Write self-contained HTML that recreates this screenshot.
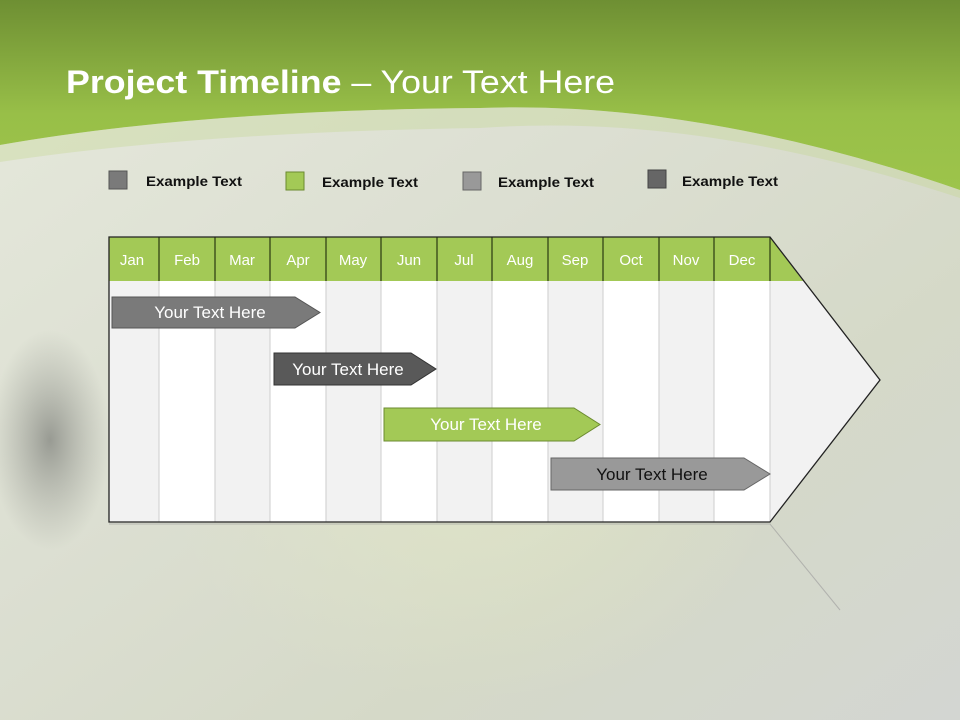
<!DOCTYPE html>
<html><head><meta charset="utf-8"><style>
html,body{margin:0;padding:0;width:960px;height:720px;overflow:hidden}
svg{display:block}
text{font-family:"Liberation Sans",sans-serif}
</style></head><body>
<svg width="960" height="720" viewBox="0 0 960 720" xmlns="http://www.w3.org/2000/svg">
<defs>
<linearGradient id="g" x1="0" y1="0" x2="0" y2="1">
<stop offset="0" stop-color="#6e8f33"/><stop offset="0.6" stop-color="#98bf48"/><stop offset="1" stop-color="#9dc44b"/>
</linearGradient>
<linearGradient id="bg" x1="0" y1="0" x2="1" y2="1">
<stop offset="0" stop-color="#e6e9dc"/><stop offset="0.4" stop-color="#dcdfd2"/><stop offset="0.7" stop-color="#d5d9c8"/><stop offset="1" stop-color="#d3d6d2"/>
</linearGradient>
<radialGradient id="dk" cx="0.5" cy="0.5" r="0.5">
<stop offset="0" stop-color="#6a6c68" stop-opacity="0.6"/><stop offset="1" stop-color="#8a8c86" stop-opacity="0"/>
</radialGradient>
<radialGradient id="lt" cx="0.5" cy="0.5" r="0.5">
<stop offset="0" stop-color="#e2e8c4" stop-opacity="0.6"/><stop offset="1" stop-color="#e2e8c4" stop-opacity="0"/>
</radialGradient>
</defs>
<rect width="960" height="720" fill="url(#bg)"/>
<ellipse cx="50" cy="440" rx="60" ry="110" fill="url(#dk)"/>
<ellipse cx="470" cy="480" rx="300" ry="220" fill="url(#lt)"/>
<path d="M0 0 H960 V190 Q700 100 480 108 Q200 110 0 145 Z" fill="url(#g)"/>
<path d="M0 145 Q200 110 480 108 Q700 100 960 190 V198 Q700 112 480 128 Q200 132 0 162 Z" fill="#c4d68e" opacity="0.35"/>
<text x="66" y="93" font-size="32" fill="#fff" textLength="549" lengthAdjust="spacingAndGlyphs"><tspan font-weight="bold">Project Timeline</tspan> – Your Text Here</text>
<!-- legend -->
<g font-size="14" font-weight="bold" fill="#111">
<rect x="109" y="171" width="18" height="18" fill="#7a7a7a" stroke="#555"/><text x="146" y="186" textLength="96" lengthAdjust="spacingAndGlyphs">Example Text</text>
<rect x="286" y="172" width="18" height="18" fill="#a3c956" stroke="#6b8a30"/><text x="322" y="187" textLength="96" lengthAdjust="spacingAndGlyphs">Example Text</text>
<rect x="463" y="172" width="18" height="18" fill="#999" stroke="#666"/><text x="498" y="187" textLength="96" lengthAdjust="spacingAndGlyphs">Example Text</text>
<rect x="648" y="170" width="18" height="18" fill="#666" stroke="#444"/><text x="682" y="186" textLength="96" lengthAdjust="spacingAndGlyphs">Example Text</text>
</g>
<!-- reflection -->
<path d="M109 524 H770 L840 610" fill="none" stroke="#999" stroke-width="1" opacity="0.6"/>
<!-- chart body -->
<path d="M109 237 H770 L880 380 L770 522 H109 Z" fill="#f2f2f2"/>
<g fill="#fff">
<rect x="159" y="281" width="56" height="241"/><rect x="270" y="281" width="56" height="241"/>
<rect x="381" y="281" width="56" height="241"/><rect x="492" y="281" width="56" height="241"/>
<rect x="603" y="281" width="56" height="241"/><rect x="714" y="281" width="56" height="241"/>
</g>
<g stroke="#d4d4d4" stroke-width="1.2">
<line x1="159" y1="281" x2="159" y2="522"/><line x1="215" y1="281" x2="215" y2="522"/><line x1="270" y1="281" x2="270" y2="522"/>
<line x1="326" y1="281" x2="326" y2="522"/><line x1="381" y1="281" x2="381" y2="522"/><line x1="437" y1="281" x2="437" y2="522"/>
<line x1="492" y1="281" x2="492" y2="522"/><line x1="548" y1="281" x2="548" y2="522"/><line x1="603" y1="281" x2="603" y2="522"/>
<line x1="659" y1="281" x2="659" y2="522"/><line x1="714" y1="281" x2="714" y2="522"/><line x1="770" y1="281" x2="770" y2="522"/>
</g>
<path d="M109 237 H770 L803 281 H109 Z" fill="#a3c956"/>
<g stroke="#2a3a10" stroke-width="1.2">
<line x1="159" y1="237" x2="159" y2="281"/><line x1="215" y1="237" x2="215" y2="281"/><line x1="270" y1="237" x2="270" y2="281"/>
<line x1="326" y1="237" x2="326" y2="281"/><line x1="381" y1="237" x2="381" y2="281"/><line x1="437" y1="237" x2="437" y2="281"/>
<line x1="492" y1="237" x2="492" y2="281"/><line x1="548" y1="237" x2="548" y2="281"/><line x1="603" y1="237" x2="603" y2="281"/>
<line x1="659" y1="237" x2="659" y2="281"/><line x1="714" y1="237" x2="714" y2="281"/><line x1="770" y1="237" x2="770" y2="281"/>
</g>
<path d="M109 237 H770 L880 380 L770 522 H109 Z" fill="none" stroke="#222" stroke-width="1.3"/>
<g font-size="15" fill="#fff" text-anchor="middle">
<text x="132" y="265">Jan</text><text x="187" y="265">Feb</text><text x="242" y="265">Mar</text><text x="298" y="265">Apr</text>
<text x="353" y="265">May</text><text x="409" y="265">Jun</text><text x="464" y="265">Jul</text><text x="520" y="265">Aug</text>
<text x="575" y="265">Sep</text><text x="631" y="265">Oct</text><text x="686" y="265">Nov</text><text x="742" y="265">Dec</text>
</g>
<!-- bars -->
<path d="M112 297 H295 L320 312.5 L295 328 H112 Z" fill="#7a7a7a" stroke="#555"/>
<text x="210" y="318" font-size="17" fill="#fff" text-anchor="middle">Your  Text Here</text>
<path d="M274 353 H411 L436 369 L411 385 H274 Z" fill="#595959" stroke="#333"/>
<text x="348" y="375" font-size="17" fill="#fff" text-anchor="middle">Your  Text Here</text>
<path d="M384 408 H574 L600 424.5 L574 441 H384 Z" fill="#a3c956" stroke="#6b8a30"/>
<text x="486" y="430" font-size="17" fill="#fff" text-anchor="middle">Your  Text Here</text>
<path d="M551 458 H744 L770 474 L744 490 H551 Z" fill="#999" stroke="#666"/>
<text x="652" y="480" font-size="17" fill="#111" text-anchor="middle">Your  Text Here</text>
</svg>
</body></html>
